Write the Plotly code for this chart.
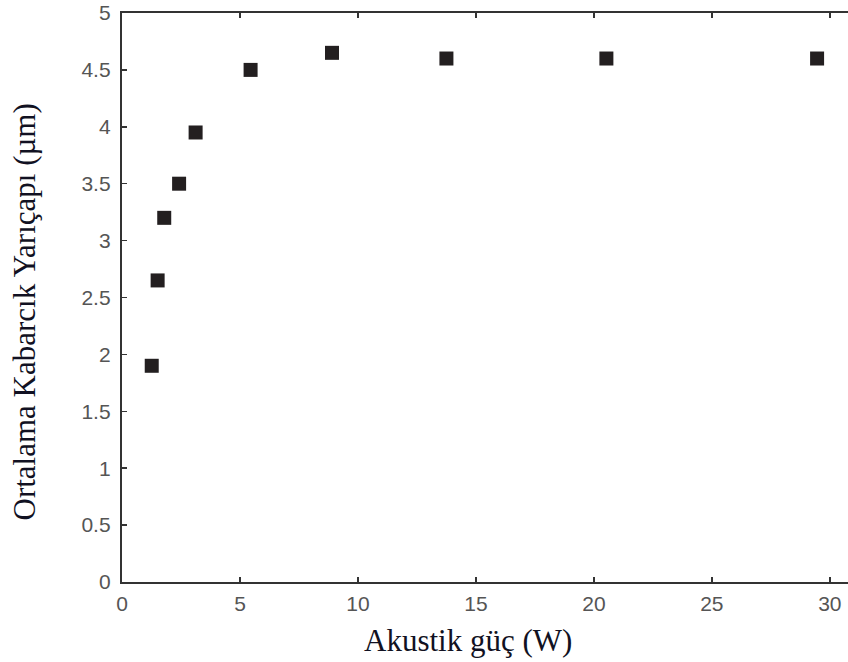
import plotly.graph_objects as go

power_w = [1.26, 1.51, 1.79, 2.42, 3.12, 5.45, 8.9, 13.75, 20.53, 29.46]
radius_um = [1.9, 2.65, 3.2, 3.5, 3.95, 4.5, 4.65, 4.6, 4.6, 4.6]
x_ticks = [0, 5, 10, 15, 20, 25, 30]
y_ticks = [0, 0.5, 1, 1.5, 2, 2.5, 3, 3.5, 4, 4.5, 5]
y_tick_text = ["0", "0.5", "1", "1.5", "2", "2.5", "3", "3.5", "4", "4.5", "5"]
x_title = "Akustik güç (W)"
y_title = "Ortalama Kabarcık Yarıçapı (µm)"

fig = go.Figure()
fig.add_trace(go.Scatter(
    x=power_w, y=radius_um, mode="markers",
    marker=dict(symbol="square", size=14, color="#231f20",
                line=dict(width=0)),
    showlegend=False, cliponaxis=False, hoverinfo="skip",
))

tick_font = dict(family="Liberation Sans, Arial, sans-serif", size=21, color="#555555")
title_font = dict(family="Liberation Serif, Times New Roman, serif", size=31, color="#111122")

W, H = 848, 662
L, T, B = 122, 13, 80
pw, ph = W - L, H - T - B

fig.update_layout(
    width=W, height=H,
    margin=dict(l=L, r=0, t=T, b=B, autoexpand=False),
    paper_bgcolor="white", plot_bgcolor="white",
    xaxis=dict(range=[0, 30.77], tickvals=x_ticks, ticks="inside", ticklen=5,
               tickwidth=1.5, tickcolor="#333333", showline=True, linewidth=2.2,
               linecolor="#333333", mirror="ticks", showgrid=False, zeroline=False,
               tickfont=tick_font, ticklabelstandoff=2, ticklabeloverflow="allow",
               automargin=False),
    yaxis=dict(range=[0, 5], tickvals=y_ticks, ticktext=y_tick_text, ticks="inside",
               ticklen=5, tickwidth=1.5, tickcolor="#333333", showline=True,
               linewidth=2.2, linecolor="#333333", showgrid=False, zeroline=False,
               tickfont=tick_font, ticklabelstandoff=5, ticklabeloverflow="allow",
               automargin=False),
    annotations=[
        dict(text=x_title, xref="paper", yref="paper", x=(468 - L) / pw,
             y=-(640 - (H - B)) / ph, xanchor="center", yanchor="middle",
             showarrow=False, font=title_font),
        dict(text=y_title, xref="paper", yref="paper", x=-(L - 24) / pw,
             y=((H - B) - 312.5) / ph, xanchor="center", yanchor="middle",
             textangle=-90, showarrow=False, font=title_font),
    ],
)

fig.write_html(
    "out.html",
    config={"displayModeBar": False, "staticPlot": True},
    post_script="document.body.style.margin='0';document.body.style.padding='0';"
                "document.body.style.overflow='hidden';",
)
